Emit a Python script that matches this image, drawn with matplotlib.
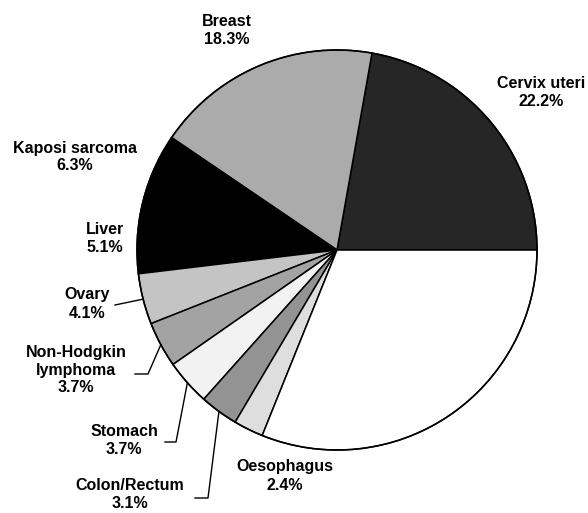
import numpy as np
import matplotlib
matplotlib.use("Agg")
import matplotlib.pyplot as plt

# Cancer shares (%), in pie order counter-clockwise from 3 o'clock
sites = ["Cervix uteri", "Breast", "Kaposi sarcoma", "Liver", "Ovary",
         "Non-Hodgkin\nlymphoma", "Stomach", "Colon/Rectum", "Oesophagus", "Other"]
shares = [22.2, 18.3, 6.3, 5.1, 4.1, 3.7, 3.7, 3.1, 2.4]
shares = shares + [round(100 - sum(shares), 1)]
fills = ["#262626", "#ababab", "#000000", "#000000", "#c4c4c4",
         "#a3a3a3", "#f2f2f2", "#939393", "#dedede", "#ffffff"]

W, H = 588, 513
fig = plt.figure(figsize=(W / 100, H / 100), dpi=100)
ax = fig.add_axes([0, 0, 1, 1])

cx, cy, r = 337, H - 250, 200
wedges, _ = ax.pie(shares, colors=fills, startangle=0, counterclock=True,
                   center=(cx, cy), radius=r,
                   wedgeprops=dict(edgecolor="black", linewidth=1.1))
# Kaposi and Liver share one black area, no border between them
for i in (2, 3):
    wedges[i].set_edgecolor("#000000")
ax.add_patch(plt.Circle((cx, cy), r, fill=False, ec="black", lw=1.1))

ax.set_xlim(0, W)
ax.set_ylim(0, H)
ax.set_aspect("equal")
ax.axis("off")

font = dict(family="Liberation Sans", weight="bold", fontsize=11.5,
            ha="center", va="center", linespacing=1.25)

# label positions in pixel coordinates (x, y from top)
label_pos = {
    0: (541, 92), 1: (227, 31), 2: (75, 157), 3: (105, 239),
    4: (87, 304), 5: (76, 370), 6: (124, 440), 7: (130, 495), 8: (285, 476),
}
for i, (px, py) in label_pos.items():
    ax.text(px, H - py, f"{sites[i]}\n{shares[i]}%", **font)

# leader lines: from wedge mid-angle on the rim to an elbow, then horizontal
elbows = {4: None, 5: (148, 374), 6: (176, 442), 7: (208, 498)}
ends = {4: (115, 305), 5: (135, 374), 6: (165, 442), 7: (195, 498)}
cum = np.cumsum([0] + shares)
for i in elbows:
    mid = np.deg2rad((cum[i] + cum[i + 1]) / 2 * 3.6)
    x0, y0 = cx + r * np.cos(mid), cy + r * np.sin(mid)
    pts = [(x0, y0)]
    if elbows[i] is not None:
        pts.append((elbows[i][0], H - elbows[i][1]))
    pts.append((ends[i][0], H - ends[i][1]))
    xs, ys = zip(*pts)
    ax.plot(xs, ys, color="black", lw=1.0)

fig.savefig("out.png", dpi=100)
